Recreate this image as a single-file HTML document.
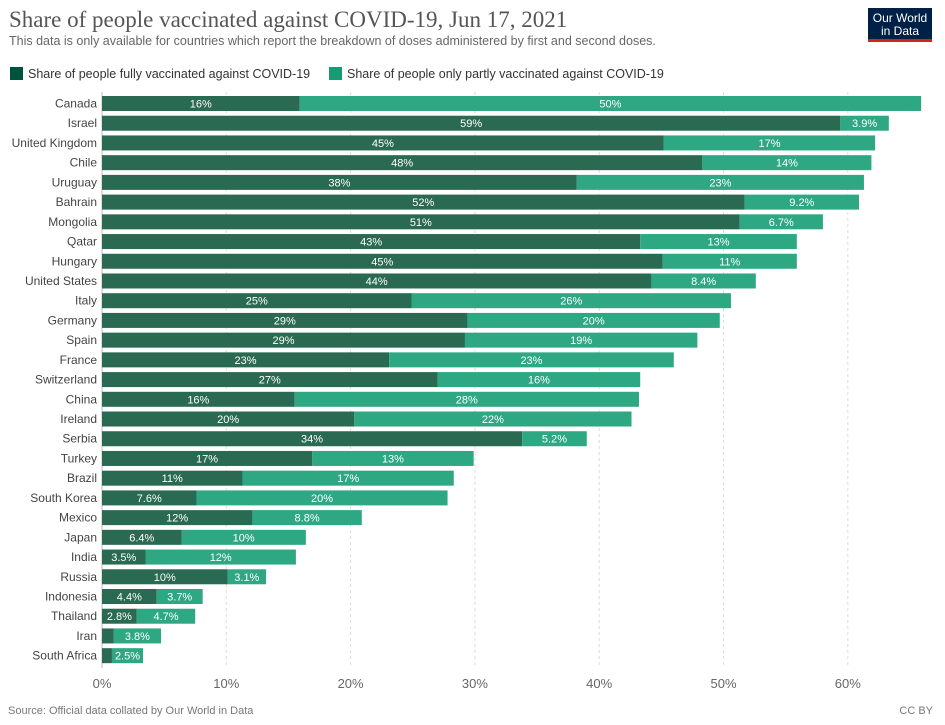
<!DOCTYPE html>
<html><head><meta charset="utf-8"><style>
body{margin:0;background:#fff;width:945px;height:720px;overflow:hidden;font-family:"Liberation Sans",sans-serif}
</style></head><body>
<svg id="chart" width="945" height="720" xmlns="http://www.w3.org/2000/svg" font-family="Liberation Sans, sans-serif">
<text x="9" y="27" style="font-family:'Liberation Serif',serif" font-size="23" fill="#555">Share of people vaccinated against COVID-19, Jun 17, 2021</text>
<text x="9" y="45" font-size="12.5" fill="#666">This data is only available for countries which report the breakdown of doses administered by first and second doses.</text>
<g>
<rect x="868" y="8" width="64" height="34" fill="#002147"/>
<rect x="868" y="39" width="64" height="3" fill="#ce261e"/>
<text x="900" y="22" font-size="12" fill="#fff" text-anchor="middle">Our World</text>
<text x="900" y="35" font-size="12" fill="#fff" text-anchor="middle">in Data</text>
</g>
<g>
<rect x="10" y="67" width="13" height="13" fill="#00533b"/>
<text x="28" y="78" font-size="12.5" fill="#333">Share of people fully vaccinated against COVID-19</text>
</g>
<g>
<rect x="329" y="67" width="13" height="13" fill="#169c72"/>
<text x="347" y="78" font-size="12.5" fill="#333">Share of people only partly vaccinated against COVID-19</text>
</g>
<g id="grid"></g>
<g id="bars"></g>
<text x="8" y="714" font-size="11" fill="#777">Source: Official data collated by Our World in Data</text>
<text x="933" y="714" font-size="11" fill="#777" text-anchor="end">CC BY</text>
</svg>
<script>
const countries=["Canada","Israel","United Kingdom","Chile","Uruguay","Bahrain","Mongolia","Qatar","Hungary","United States","Italy","Germany","Spain","France","Switzerland","China","Ireland","Serbia","Turkey","Brazil","South Korea","Mexico","Japan","India","Russia","Indonesia","Thailand","Iran","South Africa"];
const fully=[15.9,59.4,45.2,48.3,38.2,51.7,51.3,43.3,45.1,44.2,24.9,29.4,29.2,23.1,27.0,15.5,20.3,33.8,16.9,11.3,7.6,12.1,6.4,3.5,10.1,4.4,2.8,0.95,0.8];
const partly=[50.0,3.9,17.0,13.6,23.1,9.2,6.7,12.6,10.8,8.4,25.7,20.3,18.7,22.9,16.3,27.7,22.3,5.2,13.0,17.0,20.2,8.8,10.0,12.1,3.1,3.7,4.7,3.8,2.5];
const ticks=[0,10,20,30,40,50,60];
const NS="http://www.w3.org/2000/svg";
const x0=102,pxPer=12.43,rowTop=96,rowStep=19.72,barH=15;
const xs=v=>x0+v*pxPer;
const ys=i=>rowTop+i*rowStep;
function mk(t,a,p){const e=document.createElementNS(NS,t);for(const k in a)e.setAttribute(k,a[k]);p.appendChild(e);return e;}
const grid=document.getElementById('grid'),bars=document.getElementById('bars');
ticks.forEach(t=>{
  const l=mk('line',{x1:xs(t),x2:xs(t),y1:92,y2:668,stroke:t?'#ddd':'#bbb','stroke-dasharray':t?'3,3':'none'},grid);
  
  
  const tx=mk('text',{x:xs(t),y:688,'font-size':13,fill:'#666','text-anchor':'middle'},grid);
  tx.textContent=t+'%';
  
  
});
function fmt(v){return (v<9.95?v.toFixed(1):Math.round(v))+'%';}
countries.forEach((c,i)=>{
  const y=ys(i);
  const lab=mk('text',{x:97,y:y+11.5,'font-size':12,fill:'#444','text-anchor':'end'},bars);
  lab.textContent=c;
  
  
  const b1=mk('rect',{x:xs(0),y:y,width:xs(fully[i])-xs(0),height:barH,fill:'#2a6a52'},bars);
  
  
  const b2=mk('rect',{x:xs(fully[i]),y:y,width:xs(fully[i]+partly[i])-xs(fully[i]),height:barH,fill:'#2ea883'},bars);
  
  
  if(fully[i]>2){
    const t1=mk('text',{x:(xs(0)+xs(fully[i]))/2,y:y+11.5,'font-size':11,fill:'#fff','text-anchor':'middle'},bars);
    t1.textContent=fmt(fully[i]);
    
    
  }
  const t2=mk('text',{x:(xs(fully[i])+xs(fully[i]+partly[i]))/2,y:y+11.5,'font-size':11,fill:'#fff','text-anchor':'middle'},bars);
  t2.textContent=fmt(partly[i]);
  
  
});
</script>
</body></html>
